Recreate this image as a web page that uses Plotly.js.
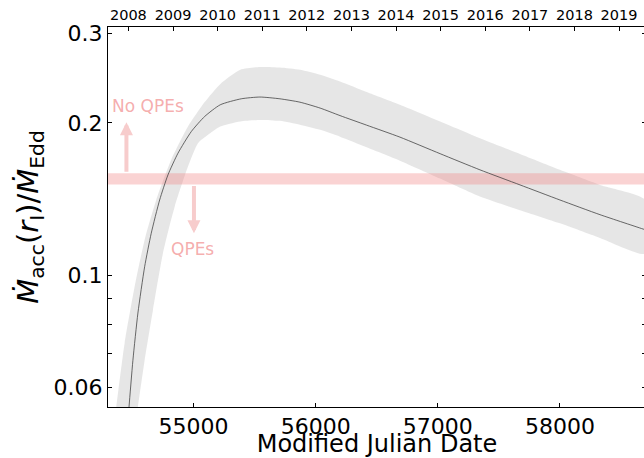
<!DOCTYPE html>
<html>
<head>
<meta charset="utf-8">
<script src="https://cdn.plot.ly/plotly-3.0.1.min.js"></script>
<style>
html, body { margin: 0; padding: 0; overflow: hidden; background: #fff; }
#chart { width: 646px; height: 458px; }
</style>
</head>
<body>
<div id="chart"></div>
<script>
// Central model curve (MJD, Mdot/MdotEdd)
const centerMjd = [54451, 54471, 54503, 54544, 54599, 54653, 54722, 54790, 54872, 54981, 55091, 55218, 55390, 55543, 55707, 55871, 56036, 56199, 56417, 56690, 57019, 57345, 57673, 58000, 58328, 58688, 58705];
const centerVal = [0.048, 0.0549, 0.0679, 0.0842, 0.1039, 0.121, 0.1408, 0.1578, 0.1742, 0.1922, 0.2059, 0.2171, 0.2231, 0.2249, 0.2231, 0.2197, 0.2139, 0.2067, 0.1979, 0.1874, 0.1738, 0.1615, 0.1508, 0.1408, 0.1317, 0.1232, 0.1228];

// Uncertainty band: upper edge
const upperMjd = [54336, 54367, 54435, 54517, 54599, 54694, 54817, 54954, 55091, 55218, 55382, 55543, 55707, 55871, 56036, 56199, 56417, 56690, 57019, 57345, 57673, 58000, 58328, 58705];
const upperVal = [0.048, 0.0549, 0.0734, 0.0949, 0.1174, 0.1408, 0.169, 0.1966, 0.2198, 0.2385, 0.2546, 0.2578, 0.2572, 0.2546, 0.2489, 0.2413, 0.2301, 0.2171, 0.2012, 0.1865, 0.1736, 0.1615, 0.1508, 0.1405];

// Uncertainty band: lower edge
const lowerMjd = [54509, 54544, 54599, 54667, 54749, 54845, 54954, 55036, 55118, 55218, 55382, 55543, 55707, 55871, 56036, 56199, 56417, 56690, 57019, 57345, 57673, 58000, 58328, 58705];
const lowerVal = [0.048, 0.0549, 0.0679, 0.0853, 0.1105, 0.1366, 0.1639, 0.1823, 0.1894, 0.1966, 0.2012, 0.2027, 0.2018, 0.1982, 0.1937, 0.1878, 0.179, 0.1684, 0.1552, 0.143, 0.1344, 0.1266, 0.1185, 0.1103];

// QPE threshold band
const qpeBandMjd = [54299, 58705];
const qpeLow = 0.151;
const qpeHigh = 0.159;

// Top axis: year starts
const yearMjd = [54466, 54832, 55197, 55562, 55927, 56293, 56658, 57023, 57388, 57754, 58119, 58484];
const yearLabels = ['2008', '2009', '2010', '2011', '2012', '2013', '2014', '2015', '2016', '2017', '2018', '2019'];

// Axes
const xRange = [54299, 58705];
const yRange = [0.0549, 0.3093];
const xTickVals = [55000, 56000, 57000, 58000];
const yTickVals = [0.06, 0.07, 0.08, 0.09, 0.1, 0.2, 0.3];
const yTickText = ['0.06', '', '', '', '0.1', '0.2', '0.3'];

// Arrows and labels
const upArrow = {mjd: 54450, from: 0.159, to: 0.2006};
const downArrow = {mjd: 55003, from: 0.151, to: 0.121};
const noQpeLabel = {mjd: 54627, val: 0.216, text: 'No QPEs'};
const qpeLabel = {mjd: 54995, val: 0.1127, text: 'QPEs'};

const FONT = 'DejaVu Sans';
const pinkText = 'rgba(240,128,128,0.65)';
const pinkArrow = 'rgb(247,204,204)';

const bandX = upperMjd.concat(lowerMjd.slice().reverse());
const bandY = upperVal.concat(lowerVal.slice().reverse());

const traces = [
  {
    x: bandX, y: bandY, type: 'scatter', mode: 'lines', fill: 'toself',
    fillcolor: 'rgba(128,128,128,0.2)', line: {width: 0, shape: 'spline', smoothing: 0.6},
    hoverinfo: 'skip', showlegend: false
  },
  {
    x: qpeBandMjd, y: [qpeLow, qpeLow], type: 'scatter', mode: 'lines',
    line: {width: 0}, hoverinfo: 'skip', showlegend: false
  },
  {
    x: qpeBandMjd, y: [qpeHigh, qpeHigh], type: 'scatter', mode: 'lines',
    fill: 'tonexty', fillcolor: 'rgba(240,128,128,0.35)',
    line: {width: 0}, hoverinfo: 'skip', showlegend: false
  },
  {
    x: centerMjd, y: centerVal, type: 'scatter', mode: 'lines',
    line: {color: 'rgba(60,60,60,0.85)', width: 0.9, shape: 'spline', smoothing: 0.6},
    hoverinfo: 'skip', showlegend: false
  },
  {
    x: [yearMjd[0]], y: [null], xaxis: 'x2', type: 'scatter', mode: 'markers',
    hoverinfo: 'skip', showlegend: false
  }
];

const layout = {
  width: 646, height: 458,
  margin: {l: 108, r: 0, t: 27, b: 51},
  paper_bgcolor: '#fff', plot_bgcolor: '#fff',
  font: {family: FONT, color: '#000'},
  showlegend: false,
  xaxis: {
    range: xRange, showgrid: false, zeroline: false,
    showline: true, linecolor: '#000', linewidth: 1, mirror: false,
    ticks: 'inside', ticklen: 4, tickwidth: 1, tickcolor: '#000',
    tickmode: 'array', tickvals: xTickVals, ticktext: xTickVals.map(String),
    tickfont: {family: FONT, size: 22, color: '#000'},
    title: {text: 'Modified Julian Date', font: {family: FONT, size: 24, color: '#000'}, standoff: 1}
  },
  xaxis2: {
    overlaying: 'x', side: 'top', range: xRange, showgrid: false, zeroline: false,
    showline: true, linecolor: '#000', linewidth: 1,
    ticks: 'inside', ticklen: 4, tickwidth: 1, tickcolor: '#000',
    tickmode: 'array', tickvals: yearMjd, ticktext: yearLabels,
    tickfont: {family: FONT, size: 14.5, color: '#000'}
  },
  yaxis: {
    type: 'log', range: [Math.log10(yRange[0]), Math.log10(yRange[1])],
    showgrid: false, zeroline: false,
    showline: true, linecolor: '#000', linewidth: 1, mirror: 'ticks',
    ticks: 'inside', ticklen: 4, tickwidth: 1, tickcolor: '#000',
    tickmode: 'array', tickvals: yTickVals, ticktext: yTickText,
    tickfont: {family: FONT, size: 22, color: '#000'},
    title: {
      text: '<i>M\u0307</i><sub>acc</sub>(<i>r</i><sub>I</sub>)/<i>M\u0307</i><sub>Edd</sub>',
      font: {family: FONT, size: 29, color: '#000'}, standoff: 6
    }
  },
  annotations: [
    {
      x: upArrow.mjd, y: Math.log10(upArrow.to), xref: 'x', yref: 'y',
      ax: upArrow.mjd, ay: Math.log10(upArrow.from), axref: 'x', ayref: 'y',
      showarrow: true, arrowhead: 2, arrowsize: 0.65, arrowwidth: 4, arrowcolor: pinkArrow, text: ''
    },
    {
      x: downArrow.mjd, y: Math.log10(downArrow.to), xref: 'x', yref: 'y',
      ax: downArrow.mjd, ay: Math.log10(downArrow.from), axref: 'x', ayref: 'y',
      showarrow: true, arrowhead: 2, arrowsize: 0.65, arrowwidth: 4, arrowcolor: pinkArrow, text: ''
    },
    {
      x: noQpeLabel.mjd, y: Math.log10(noQpeLabel.val), xref: 'x', yref: 'y',
      text: noQpeLabel.text, showarrow: false,
      font: {family: FONT, size: 17, color: pinkText}
    },
    {
      x: qpeLabel.mjd, y: Math.log10(qpeLabel.val), xref: 'x', yref: 'y',
      text: qpeLabel.text, showarrow: false,
      font: {family: FONT, size: 17, color: pinkText}
    }
  ]
};

Plotly.newPlot('chart', traces, layout, {displayModeBar: false, staticPlot: true});
</script>
</body>
</html>
